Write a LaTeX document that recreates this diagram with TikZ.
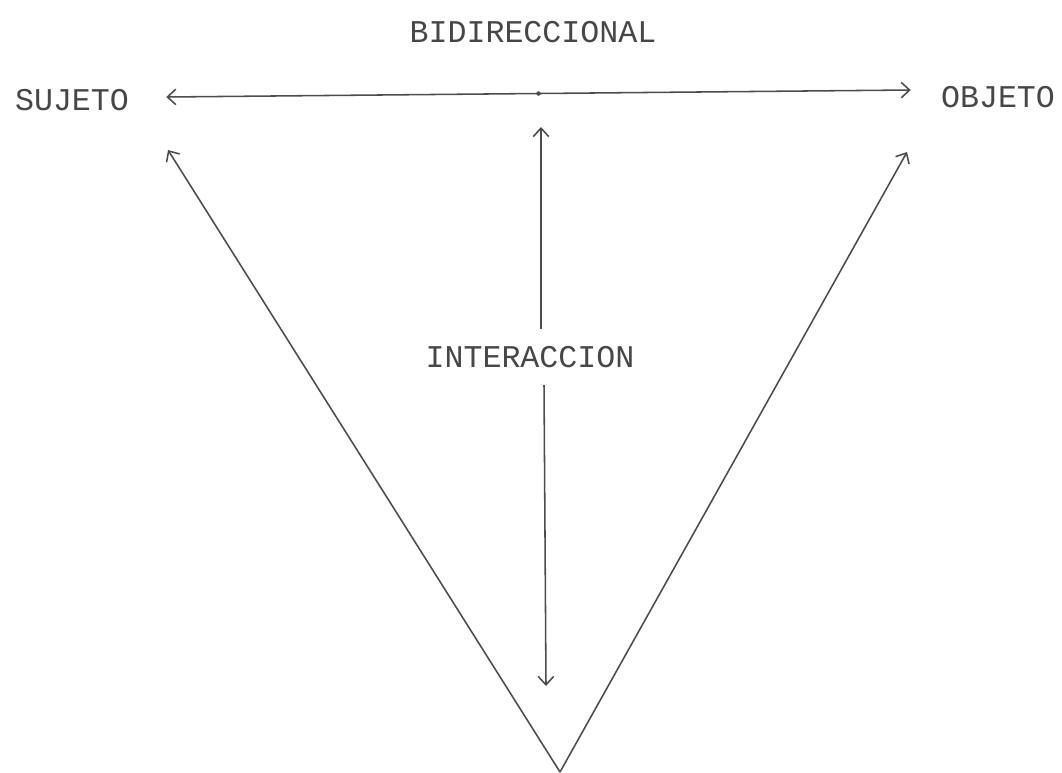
\documentclass[tikz,border=0pt]{standalone}
\usepackage{fontspec}
\setmonofont{Liberation Mono}
\usetikzlibrary{arrows.meta,calc}
\tikzset{
  lbl/.style={font=\ttfamily\fontsize{22.5}{26}\selectfont, text=black!72, inner sep=0pt},
  flecha/.style={draw=black!70, line width=1.1pt, {Straight Barb[length=6pt,width=11pt]}-{Straight Barb[length=6pt,width=11pt]}},
  linea/.style={draw=black!70, line width=1.1pt, -{Straight Barb[length=6pt,width=11pt]}}
}
\begin{document}
\begin{tikzpicture}[x=0.025cm,y=-0.025cm]
\useasboundingbox (0,0) rectangle (1062,772);
\node[lbl] (bidir) at (533,32) {BIDIRECCIONAL};
\node[lbl] (sujeto) at (72,100) {SUJETO};
\node[lbl] (objeto) at (998,97) {OBJETO};
\node[lbl] (inter) at (530,357) {INTERACCION};
\coordinate (vertice) at (560,772);
\coordinate (izq) at (168,150);
\coordinate (der) at (907,152);
\coordinate (arriba) at (541,127);
\coordinate (abajo) at (546,686);
\draw[flecha] ($(sujeto.east)+(37,-3)$) -- ($(objeto.west)+(-30,-7)$)
  coordinate[pos=0.5] (medio);
\fill[black!70] (medio) circle (1.6pt);
\draw[linea] (inter.north -| arriba) ++(0,-17) -- (arriba);
\draw[linea] (inter.south -| abajo) ++(-2,17) -- (abajo);
\draw[linea] (vertice) -- (izq);
\draw[linea] (vertice) -- (der);
\end{tikzpicture}
\end{document}
